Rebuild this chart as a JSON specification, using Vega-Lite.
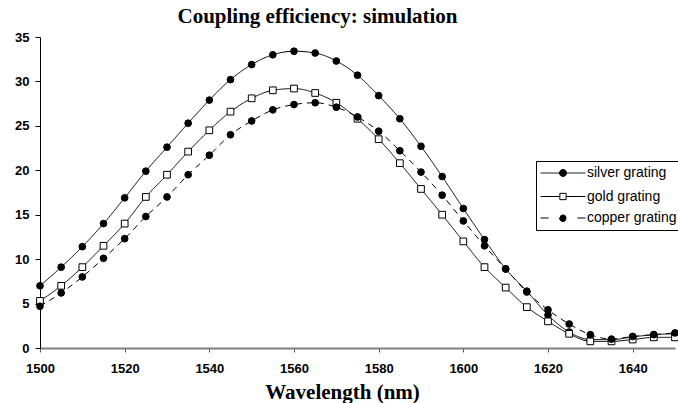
{
  "$schema": "https://vega.github.io/schema/vega-lite/v6.json",
  "width": 635,
  "height": 311,
  "autosize": {"type": "none"},
  "padding": {"left": 40, "top": 37, "right": 3, "bottom": 55},
  "background": "white",
  "title": {"text": "Coupling efficiency: simulation", "font": "Liberation Serif", "fontSize": 21, "fontWeight": "bold", "color": "black", "anchor": "middle", "dx": -40, "dy": 2, "offset": 6},
  "config": {"view": {"stroke": null}, "axis": {"grid": false}},
  "data": {"values": [
    {"wavelength": 1500, "series": "silver grating", "efficiency": 7.0},
    {"wavelength": 1505, "series": "silver grating", "efficiency": 9.1},
    {"wavelength": 1510, "series": "silver grating", "efficiency": 11.4},
    {"wavelength": 1515, "series": "silver grating", "efficiency": 14.0},
    {"wavelength": 1520, "series": "silver grating", "efficiency": 16.9},
    {"wavelength": 1525, "series": "silver grating", "efficiency": 19.9},
    {"wavelength": 1530, "series": "silver grating", "efficiency": 22.6},
    {"wavelength": 1535, "series": "silver grating", "efficiency": 25.3},
    {"wavelength": 1540, "series": "silver grating", "efficiency": 27.9},
    {"wavelength": 1545, "series": "silver grating", "efficiency": 30.2},
    {"wavelength": 1550, "series": "silver grating", "efficiency": 31.9},
    {"wavelength": 1555, "series": "silver grating", "efficiency": 33.0},
    {"wavelength": 1560, "series": "silver grating", "efficiency": 33.4},
    {"wavelength": 1565, "series": "silver grating", "efficiency": 33.2},
    {"wavelength": 1570, "series": "silver grating", "efficiency": 32.3},
    {"wavelength": 1575, "series": "silver grating", "efficiency": 30.7},
    {"wavelength": 1580, "series": "silver grating", "efficiency": 28.4},
    {"wavelength": 1585, "series": "silver grating", "efficiency": 25.8},
    {"wavelength": 1590, "series": "silver grating", "efficiency": 22.7},
    {"wavelength": 1595, "series": "silver grating", "efficiency": 19.3},
    {"wavelength": 1600, "series": "silver grating", "efficiency": 15.7},
    {"wavelength": 1605, "series": "silver grating", "efficiency": 12.2},
    {"wavelength": 1610, "series": "silver grating", "efficiency": 8.9},
    {"wavelength": 1615, "series": "silver grating", "efficiency": 6.4},
    {"wavelength": 1620, "series": "silver grating", "efficiency": 3.7},
    {"wavelength": 1625, "series": "silver grating", "efficiency": 1.8},
    {"wavelength": 1630, "series": "silver grating", "efficiency": 0.95},
    {"wavelength": 1635, "series": "silver grating", "efficiency": 0.95},
    {"wavelength": 1640, "series": "silver grating", "efficiency": 1.25},
    {"wavelength": 1645, "series": "silver grating", "efficiency": 1.5},
    {"wavelength": 1650, "series": "silver grating", "efficiency": 1.6},
    {"wavelength": 1500, "series": "gold grating", "efficiency": 5.3},
    {"wavelength": 1505, "series": "gold grating", "efficiency": 7.0},
    {"wavelength": 1510, "series": "gold grating", "efficiency": 9.1},
    {"wavelength": 1515, "series": "gold grating", "efficiency": 11.5},
    {"wavelength": 1520, "series": "gold grating", "efficiency": 14.0},
    {"wavelength": 1525, "series": "gold grating", "efficiency": 17.0},
    {"wavelength": 1530, "series": "gold grating", "efficiency": 19.5},
    {"wavelength": 1535, "series": "gold grating", "efficiency": 22.1},
    {"wavelength": 1540, "series": "gold grating", "efficiency": 24.5},
    {"wavelength": 1545, "series": "gold grating", "efficiency": 26.6},
    {"wavelength": 1550, "series": "gold grating", "efficiency": 28.1},
    {"wavelength": 1555, "series": "gold grating", "efficiency": 29.0},
    {"wavelength": 1560, "series": "gold grating", "efficiency": 29.2},
    {"wavelength": 1565, "series": "gold grating", "efficiency": 28.7},
    {"wavelength": 1570, "series": "gold grating", "efficiency": 27.6},
    {"wavelength": 1575, "series": "gold grating", "efficiency": 25.8},
    {"wavelength": 1580, "series": "gold grating", "efficiency": 23.5},
    {"wavelength": 1585, "series": "gold grating", "efficiency": 20.8},
    {"wavelength": 1590, "series": "gold grating", "efficiency": 17.9},
    {"wavelength": 1595, "series": "gold grating", "efficiency": 15.0},
    {"wavelength": 1600, "series": "gold grating", "efficiency": 12.0},
    {"wavelength": 1605, "series": "gold grating", "efficiency": 9.1},
    {"wavelength": 1610, "series": "gold grating", "efficiency": 6.8},
    {"wavelength": 1615, "series": "gold grating", "efficiency": 4.6},
    {"wavelength": 1620, "series": "gold grating", "efficiency": 3.0},
    {"wavelength": 1625, "series": "gold grating", "efficiency": 1.6},
    {"wavelength": 1630, "series": "gold grating", "efficiency": 0.75},
    {"wavelength": 1635, "series": "gold grating", "efficiency": 0.75},
    {"wavelength": 1640, "series": "gold grating", "efficiency": 0.95},
    {"wavelength": 1645, "series": "gold grating", "efficiency": 1.2},
    {"wavelength": 1650, "series": "gold grating", "efficiency": 1.2},
    {"wavelength": 1500, "series": "copper grating", "efficiency": 4.7},
    {"wavelength": 1505, "series": "copper grating", "efficiency": 6.2},
    {"wavelength": 1510, "series": "copper grating", "efficiency": 8.0},
    {"wavelength": 1515, "series": "copper grating", "efficiency": 10.1},
    {"wavelength": 1520, "series": "copper grating", "efficiency": 12.3},
    {"wavelength": 1525, "series": "copper grating", "efficiency": 14.8},
    {"wavelength": 1530, "series": "copper grating", "efficiency": 17.0},
    {"wavelength": 1535, "series": "copper grating", "efficiency": 19.5},
    {"wavelength": 1540, "series": "copper grating", "efficiency": 21.7},
    {"wavelength": 1545, "series": "copper grating", "efficiency": 24.0},
    {"wavelength": 1550, "series": "copper grating", "efficiency": 25.55},
    {"wavelength": 1555, "series": "copper grating", "efficiency": 26.8},
    {"wavelength": 1560, "series": "copper grating", "efficiency": 27.4},
    {"wavelength": 1565, "series": "copper grating", "efficiency": 27.6},
    {"wavelength": 1570, "series": "copper grating", "efficiency": 27.1},
    {"wavelength": 1575, "series": "copper grating", "efficiency": 26.0},
    {"wavelength": 1580, "series": "copper grating", "efficiency": 24.4},
    {"wavelength": 1585, "series": "copper grating", "efficiency": 22.2},
    {"wavelength": 1590, "series": "copper grating", "efficiency": 19.8},
    {"wavelength": 1595, "series": "copper grating", "efficiency": 17.2},
    {"wavelength": 1600, "series": "copper grating", "efficiency": 14.3},
    {"wavelength": 1605, "series": "copper grating", "efficiency": 11.5},
    {"wavelength": 1610, "series": "copper grating", "efficiency": 8.9},
    {"wavelength": 1615, "series": "copper grating", "efficiency": 6.3},
    {"wavelength": 1620, "series": "copper grating", "efficiency": 4.3},
    {"wavelength": 1625, "series": "copper grating", "efficiency": 2.7},
    {"wavelength": 1630, "series": "copper grating", "efficiency": 1.5},
    {"wavelength": 1635, "series": "copper grating", "efficiency": 1.0},
    {"wavelength": 1640, "series": "copper grating", "efficiency": 1.3},
    {"wavelength": 1645, "series": "copper grating", "efficiency": 1.5},
    {"wavelength": 1650, "series": "copper grating", "efficiency": 1.7}
  ]},
  "encoding": {
    "x": {"field": "wavelength", "type": "quantitative",
      "scale": {"domain": [1500, 1650], "nice": false, "zero": false},
      "axis": {"title": "Wavelength (nm)", "values": [1500, 1520, 1540, 1560, 1580, 1600, 1620, 1640], "format": "d",
        "labelFont": "Liberation Sans", "labelFontWeight": "bold", "labelFontSize": 13, "labelColor": "black",
        "labelPadding": 10, "labelFlush": false, "labelOverlap": false, "tickSize": 4, "tickColor": "#555555",
        "domainColor": "#808080", "domainWidth": 2,
        "titleFont": "Liberation Serif", "titleFontSize": 21, "titleFontWeight": "bold", "titleColor": "black",
        "titleX": 302, "titleY": 50, "titleBaseline": "alphabetic", "titleAlign": "center"}},
    "y": {"field": "efficiency", "type": "quantitative",
      "scale": {"domain": [0, 35], "nice": false},
      "axis": {"title": null, "values": [0, 5, 10, 15, 20, 25, 30, 35],
        "labelFont": "Liberation Sans", "labelFontWeight": "bold", "labelFontSize": 13, "labelColor": "black",
        "labelPadding": 6, "labelFlush": false, "labelOverlap": false, "tickSize": 5, "tickColor": "black",
        "domainColor": "black", "domainWidth": 1}}
  },
  "layer": [
    {
      "mark": {"type": "line", "color": "black", "strokeWidth": 1, "interpolate": "monotone"},
      "encoding": {
        "strokeDash": {"field": "series", "type": "nominal",
          "scale": {"domain": ["silver grating", "gold grating", "copper grating"], "range": [[1, 0], [1, 0], [6, 5]]},
          "legend": null}
      }
    },
    {
      "mark": {"type": "point", "filled": false, "stroke": "black", "strokeWidth": 1, "opacity": 1, "size": 45},
      "encoding": {
        "shape": {"field": "series", "type": "nominal",
          "scale": {"domain": ["silver grating", "gold grating", "copper grating"], "range": ["circle", "square", "circle"]},
          "legend": null},
        "fill": {"field": "series", "type": "nominal",
          "scale": {"domain": ["silver grating", "gold grating", "copper grating"], "range": ["black", "white", "black"]},
          "legend": null}
      }
    },
    {
      "transform": [{"filter": "false"}],
      "mark": {"type": "point", "filled": false, "stroke": "black", "strokeWidth": 1, "opacity": 1, "size": 49},
      "encoding": {
        "fill": {"field": "series", "type": "nominal",
          "scale": {"domain": ["silver grating", "gold grating", "copper grating"], "range": ["black", "white", "black"]},
          "legend": {"title": null, "orient": "none", "legendX": 496, "legendY": 124,
            "strokeColor": "black", "fillColor": "white", "padding": 5,
            "labelFont": "Liberation Sans", "labelFontSize": 14, "labelColor": "black",
            "symbolType": "M-6.4,0H6.4M-1,0A1,1 0 1,0 1,0A1,1 0 1,0 -1,0Z", "symbolSize": 49,
            "symbolStrokeWidth": 1, "symbolStrokeColor": "black", "symbolOffset": 15, "labelOffset": 17, "rowPadding": 8.5}},
        "strokeDash": {"field": "series", "type": "nominal",
          "scale": {"domain": ["silver grating", "gold grating", "copper grating"], "range": [[1, 0], [1, 0], [8, 28.8]]},
          "legend": {"title": null, "orient": "none", "legendX": 496, "legendY": 124,
            "strokeColor": "black", "fillColor": "white", "padding": 5,
            "labelFont": "Liberation Sans", "labelFontSize": 14, "labelColor": "black",
            "symbolType": "M-6.4,0H6.4M-1,0A1,1 0 1,0 1,0A1,1 0 1,0 -1,0Z", "symbolSize": 49,
            "symbolStrokeWidth": 1, "symbolStrokeColor": "black", "symbolOffset": 15, "labelOffset": 17, "rowPadding": 8.5}}
      }
    },
    {
      "transform": [{"filter": "false"}],
      "mark": {"type": "point", "filled": false, "stroke": "black", "strokeWidth": 1, "opacity": 1, "size": 49},
      "encoding": {
        "fill": {"field": "series", "type": "nominal",
          "scale": {"domain": ["gold grating"], "range": ["white"]},
          "legend": {"title": null, "orient": "none", "legendX": 498, "legendY": 149.5,
            "fillColor": "white", "padding": 3,
            "labelFont": "Liberation Sans", "labelFontSize": 14, "labelColor": "black",
            "symbolType": "M-6.4,0H-0.9M0.9,0H6.4M-0.9,-0.9H0.9V0.9H-0.9Z", "symbolSize": 49,
            "symbolStrokeWidth": 1, "symbolStrokeColor": "black", "symbolOffset": 15, "labelOffset": 17}}
      }
    }
  ],
  "resolve": {"scale": {"fill": "independent", "strokeDash": "independent", "shape": "independent"}}
}
